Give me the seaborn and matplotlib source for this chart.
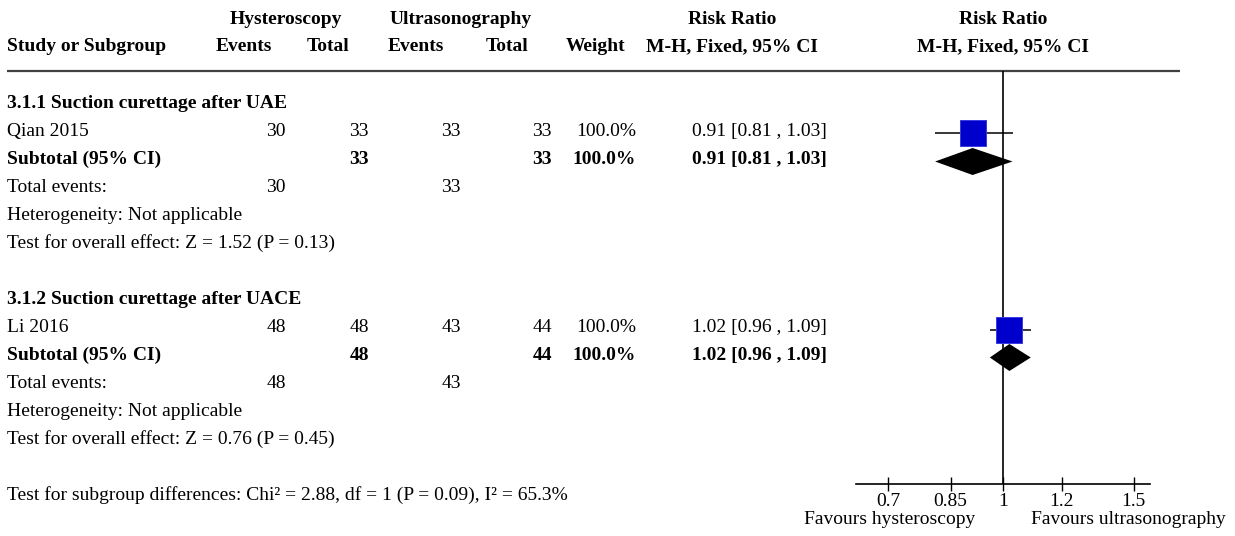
import seaborn as sns
import matplotlib.pyplot as plt
import pandas as pd

# data
subgroups = ["3.1.1 Suction curettage after UAE", "3.1.2 Suction curettage after UACE"]
studies = ["Qian 2015", "Li 2016"]
hyst_events = [30, 48]
hyst_total = [33, 48]
us_events = [33, 43]
us_total = [33, 44]
weights = ["100.0%", "100.0%"]
rr = [0.91, 1.02]
ci_low = [0.81, 0.96]
ci_high = [1.03, 1.09]
sub_rr = [0.91, 1.02]
sub_low = [0.81, 0.96]
sub_high = [1.03, 1.09]
overall_tests = ["Z = 1.52 (P = 0.13)", "Z = 0.76 (P = 0.45)"]
subgroup_test = "Test for subgroup differences: Chi\u00b2 = 2.88, df = 1 (P = 0.09), I\u00b2 = 65.3%"
tick_vals = [0.7, 0.85, 1, 1.2, 1.5]
tick_labels = ["0.7", "0.85", "1", "1.2", "1.5"]

sns.set_theme(style="white")
plt.rcParams['font.family'] = ['Liberation Serif', 'DejaVu Serif']
FS = 14.0

W, H = 1235, 536
ROW_PX = 28
Y0 = 105.5


def ry(px):
    return (px - Y0) / ROW_PX


BASE = 2.5 / ROW_PX  # text baseline sits a little below the mark centre

fig = plt.figure(figsize=(W / 100, H / 100), dpi=100)
tab = fig.add_axes([0, 0, 1, 1])
tab.set_xlim(0, W)
tab.set_ylim(ry(H), ry(0))
tab.axis('off')


def put(x, r, s, ha='left', bold=False, base=True):
    tab.text(x, r + (BASE if base else 0), s, ha=ha, va='baseline', fontsize=FS,
             fontweight='bold' if bold else 'normal', color='black')


# column right edges
cx = {'he': 286, 'ht': 369, 'ue': 461, 'ut': 552, 'w': 636, 'ci': 827}

# header
h1, h2 = ry(23.5), ry(51)
put(286, h1, "Hysteroscopy", 'center', True, False)
put(461, h1, "Ultrasonography", 'center', True, False)
put(732, h1, "Risk Ratio", 'center', True, False)
put(1003, h1, "Risk Ratio", 'center', True, False)
put(7, h2, "Study or Subgroup", 'left', True, False)
put(244, h2, "Events", 'center', True, False)
put(328, h2, "Total", 'center', True, False)
put(415.5, h2, "Events", 'center', True, False)
put(507, h2, "Total", 'center', True, False)
put(595.5, h2, "Weight", 'center', True, False)
put(732, h2, "M-H, Fixed, 95% CI", 'center', True, False)
put(1003, h2, "M-H, Fixed, 95% CI", 'center', True, False)
tab.plot([7, 1180], [ry(71), ry(71)], color='#404040', lw=1.6, solid_capstyle='butt')

base_rows = [0, 7]
for i, b in enumerate(base_rows):
    put(7, b, subgroups[i], bold=True)
    put(7, b + 1, studies[i])
    put(cx['he'], b + 1, str(hyst_events[i]), 'right')
    put(cx['ht'], b + 1, str(hyst_total[i]), 'right')
    put(cx['ue'], b + 1, str(us_events[i]), 'right')
    put(cx['ut'], b + 1, str(us_total[i]), 'right')
    put(cx['w'], b + 1, weights[i], 'right')
    put(cx['ci'], b + 1, f"{rr[i]:.2f} [{ci_low[i]:.2f} , {ci_high[i]:.2f}]", 'right')
    put(7, b + 2, "Subtotal (95% CI)", bold=True)
    put(cx['ht'], b + 2, str(hyst_total[i]), 'right', True)
    put(cx['ut'], b + 2, str(us_total[i]), 'right', True)
    put(cx['w'], b + 2, weights[i], 'right', True)
    put(cx['ci'], b + 2, f"{sub_rr[i]:.2f} [{sub_low[i]:.2f} , {sub_high[i]:.2f}]", 'right', True)
    put(7, b + 3, "Total events:")
    put(cx['he'], b + 3, str(hyst_events[i]), 'right')
    put(cx['ue'], b + 3, str(us_events[i]), 'right')
    put(7, b + 4, "Heterogeneity: Not applicable")
    put(7, b + 5, "Test for overall effect: " + overall_tests[i])
put(7, 14, subgroup_test)

# forest panel
ax = fig.add_axes([856 / W, (H - 484) / H, 294 / W, (484 - 71) / H])
ax.set_xscale('log')
ax.set_xlim(0.6337, 1.578)
ax.set_ylim(ry(484), ry(71))
ax.set_facecolor('none')
for side in ['top', 'left', 'right']:
    ax.spines[side].set_visible(False)
ax.spines['bottom'].set_color('black')
ax.spines['bottom'].set_linewidth(1.2)
ax.axvline(1, color='black', lw=1.2, zorder=1)

study_rows = [b + 1 for b in base_rows]
sub_rows = [b + 2 for b in base_rows]
ax.hlines(study_rows, ci_low, ci_high, color='black', lw=1.1, zorder=2)
df = pd.DataFrame({'rr': rr, 'row': study_rows})
sns.scatterplot(data=df, x='rr', y='row', marker='s', s=350, color='#0000cc',
                edgecolor='#3a3ae0', linewidth=0.7, ax=ax, legend=False, zorder=3)
hh = 13.5 / ROW_PX
for r, m, lo, hi in zip(sub_rows, sub_rr, sub_low, sub_high):
    ax.fill([lo, m, hi, m], [r, r - hh, r, r + hh], color='black', lw=0, zorder=3)

ax.set_xticks(tick_vals)
ax.set_xticklabels(tick_labels)
ax.xaxis.set_minor_locator(plt.NullLocator())
ax.tick_params(axis='x', direction='inout', length=10, width=1, color='black',
               labelcolor='black', labelsize=FS, pad=1.5, bottom=True)
ax.set_yticks([])
ax.set_xlabel('')
ax.set_ylabel('')

put(975, ry(524.5), "Favours hysteroscopy", 'right', base=False)
put(1031, ry(524.5), "Favours ultrasonography", 'left', base=False)

fig.savefig("out.png", dpi=100)
